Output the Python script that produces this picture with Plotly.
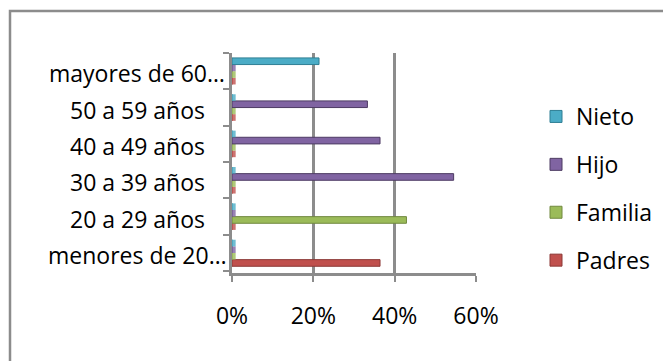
import plotly.graph_objects as go

categories = ["menores de 20…", "20 a 29 años", "30 a 39 años", "40 a 49 años", "50 a 59 años", "mayores de 60…"]
padres = [0.364, 0, 0, 0, 0, 0]
familia = [0, 0.429, 0, 0, 0, 0]
hijo = [0, 0, 0.545, 0.364, 0.333, 0]
nieto = [0, 0, 0, 0, 0, 0.214]
x_ticks = [0, 0.2, 0.4, 0.6]
x_tick_labels = ["0%", "20%", "40%", "60%"]

series = [
    ("Padres", padres, "#c0504d", "#8c3836", 4),
    ("Familia", familia, "#9bbb59", "#71893f", 3),
    ("Hijo", hijo, "#8064a2", "#4d3b63", 2),
    ("Nieto", nieto, "#4bacc6", "#2f7f94", 1),
]

FONT = "Open Sans"
FS = 23
STUB = 0.009  # visual length of the flat 3D cap drawn for zero values

fig = go.Figure()
for name, vals, col, dark, rank in series:
    fig.add_trace(go.Bar(
        y=categories, x=vals, name=name, orientation="h",
        offsetgroup=name, legendgroup=name, legendrank=rank,
        marker=dict(color=col, line=dict(color=dark, width=1)),
    ))
    stubs = [STUB if v == 0 else None for v in vals]
    fig.add_trace(go.Bar(
        y=categories, x=stubs, name=name, orientation="h",
        offsetgroup=name, legendgroup=name, showlegend=False, legendrank=rank,
        marker=dict(color=col, opacity=0.8, line=dict(width=0)),
        hoverinfo="skip",
    ))

OFF = 8  # page body margin
W, H = 671 - OFF, 361 - OFF
# plot area in page pixels
PX0, PX1, PY0, PY1 = 232, 476, 53, 273
L = PX0 - OFF
R = W - (PX1 - OFF)
T = PY0 - OFF
B = H - (PY1 - OFF)
pw = PX1 - PX0
ph = PY1 - PY0

def px_x(p):
    return (p - PX0) / pw

def px_y(p):
    return (PY1 - p) / ph

for c in categories:
    fig.add_annotation(
        x=px_x(137), xref="paper", y=c, yref="y", text=c, showarrow=False,
        xanchor="center", yanchor="middle", yshift=-2,
        font=dict(family=FONT, size=FS, color="#000000"),
    )

fig.add_shape(
    type="rect", xref="paper", yref="paper",
    x0=px_x(10), x1=px_x(760), y0=px_y(420), y1=px_y(11),
    line=dict(color="#8c8c8c", width=2.5), fillcolor="rgba(0,0,0,0)", layer="below",
)

fig.update_layout(
    width=W, height=H,
    margin=dict(l=L, r=R, t=T, b=B, pad=0),
    paper_bgcolor="white", plot_bgcolor="white",
    barmode="group", bargap=0.27, bargroupgap=0.0,
    font=dict(family=FONT, size=FS, color="#000000"),
    showlegend=True,
    legend=dict(
        x=px_x(536), xanchor="left", y=px_y(95), yanchor="top",
        traceorder="grouped", tracegroupgap=15,
        font=dict(family=FONT, size=FS, color="#000000"),
        bgcolor="rgba(0,0,0,0)", borderwidth=0,
    ),
    xaxis=dict(
        range=[0, 0.6], tickvals=x_ticks, ticktext=x_tick_labels,
        showgrid=True, gridcolor="#8c8c8c", gridwidth=3,
        showline=True, linecolor="#8c8c8c", linewidth=3,
        ticks="outside", ticklen=6, tickcolor="#8c8c8c", tickwidth=2,
        ticklabelstandoff=14, zeroline=False, fixedrange=True,
        tickfont=dict(family=FONT, size=FS, color="#000000"),
    ),
    yaxis=dict(
        type="category", categoryorder="array", categoryarray=categories,
        showticklabels=False, showgrid=False,
        showline=True, linecolor="#8c8c8c", linewidth=3,
        ticks="outside", ticklen=6, tickcolor="#8c8c8c", tickwidth=2,
        tickson="boundaries", zeroline=False, fixedrange=True,
    ),
)

fig.write_html("out.html")
